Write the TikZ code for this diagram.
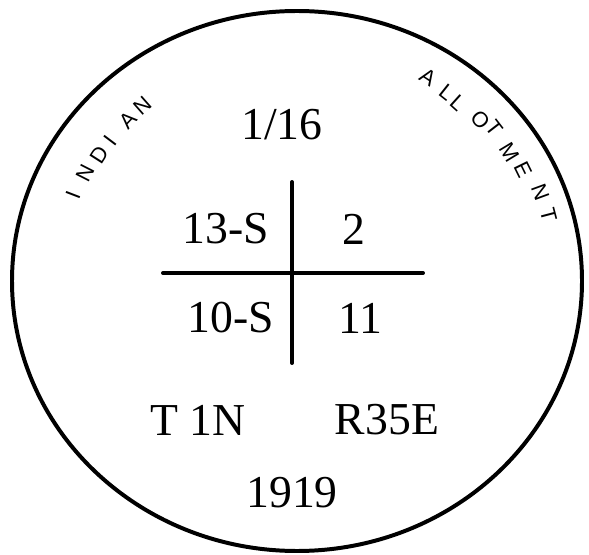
\documentclass[tikz,border=0pt]{standalone}
\usepackage{fontspec}
\setmainfont{Liberation Serif}
\newfontfamily\stampfont{Liberation Sans}
\usetikzlibrary{positioning}

\begin{document}
\begin{tikzpicture}[x=0.03cm, y=0.03cm, line cap=round, line join=round,
    lbl/.style={font=\fontsize{39}{39}\selectfont, inner sep=0pt},
    arcch/.style={font=\stampfont\fontsize{18.5}{18.5}\selectfont, inner sep=0pt}]
        \useasboundingbox (0,0) rectangle (589,554);
        \coordinate (ctr) at (297,273);
        \draw[line width=3.4pt] (ctr) ellipse (285 and 270);
        % curved lettering
        \foreach \ch/\a/\r [count=\i] in {I/159/240, N/153/238, D/147.4/235, I/143/234, A/136.4/233, N/131.4/234}
            \node[arcch, rotate=\a-90] (ind-\i) at ([shift={(\a:\r)}]ctr) {\ch};
        \foreach \ch/\a/\r [count=\i] in {A/57.2/242, L/51.6/241, L/47.9/240, O/41.3/244, T/37.7/250, M/31.2/249, E/26.2/252, N/20.1/259, T/14.7/260}
            \node[arcch, rotate=\a-90] (alt-\i) at ([shift={(\a:\r)}]ctr) {\ch};
        % section cross
        \coordinate (vtop) at (292,372);
        \coordinate (vbot) at (292,191);
        \coordinate (hleft) at (163,281);
        \coordinate (hright) at (423,281);
        \draw[line width=3.4pt] (vtop) -- (vbot);
        \draw[line width=3.4pt] (hleft) -- (hright);
        \node[lbl] (frac) at (282,429) {1/16};
        \node[lbl] (nw) at (226,325) {13-S};
        \node[lbl] (ne) at (354,325) {2};
        \node[lbl] (sw) at (231,236) {10-S};
        \node[lbl] (se) at (360,236) {11};
        \node[lbl] (twp) at (198,134) {T 1N};
        \node[lbl] (rng) at (387,134) {R35E};
        \node[lbl] (yr) at (292,61) {1919};
    \end{tikzpicture}
\end{document}
